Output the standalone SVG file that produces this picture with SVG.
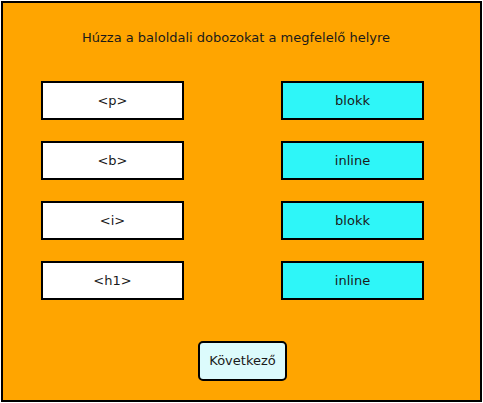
<svg xmlns="http://www.w3.org/2000/svg" width="483" height="403" viewBox="0 0 483 403">
<style>
text{font-family:"DejaVu Sans",sans-serif;font-size:13px;fill:#1a1a1a;text-anchor:middle}
.l{fill:#ffffff;stroke:#000;stroke-width:2}
.r{fill:#2ef6f8;stroke:#000;stroke-width:2}
.b{fill:#dcfbfc;stroke:#000;stroke-width:2}
</style>
<rect x="2" y="2" width="479" height="399" fill="#ffa500" stroke="#000" stroke-width="2"/>
<text x="236" y="42">Húzza a baloldali dobozokat a megfelelő helyre</text>
<g id="n-p"><rect class="l" x="42" y="82" width="141" height="37"/><text x="112.5" y="105">&lt;p&gt;</text></g>
<g id="n-b"><rect class="l" x="42" y="142" width="141" height="37"/><text x="112.5" y="165">&lt;b&gt;</text></g>
<g id="n-i"><rect class="l" x="42" y="202" width="141" height="37"/><text x="112.5" y="225">&lt;i&gt;</text></g>
<g id="n-h1"><rect class="l" x="42" y="262" width="141" height="37"/><text x="112.5" y="285">&lt;h1&gt;</text></g>
<g id="t1"><rect class="r" x="282" y="82" width="141" height="37"/><text x="352.5" y="105">blokk</text></g>
<g id="t2"><rect class="r" x="282" y="142" width="141" height="37"/><text x="352.5" y="165">inline</text></g>
<g id="t3"><rect class="r" x="282" y="202" width="141" height="37"/><text x="352.5" y="225">blokk</text></g>
<g id="t4"><rect class="r" x="282" y="262" width="141" height="37"/><text x="352.5" y="285">inline</text></g>
<g id="next"><rect class="b" x="199" y="342" width="87" height="38" rx="4"/><text x="242.5" y="365">Következő</text></g>
<g id="connectors"></g>
</svg>
